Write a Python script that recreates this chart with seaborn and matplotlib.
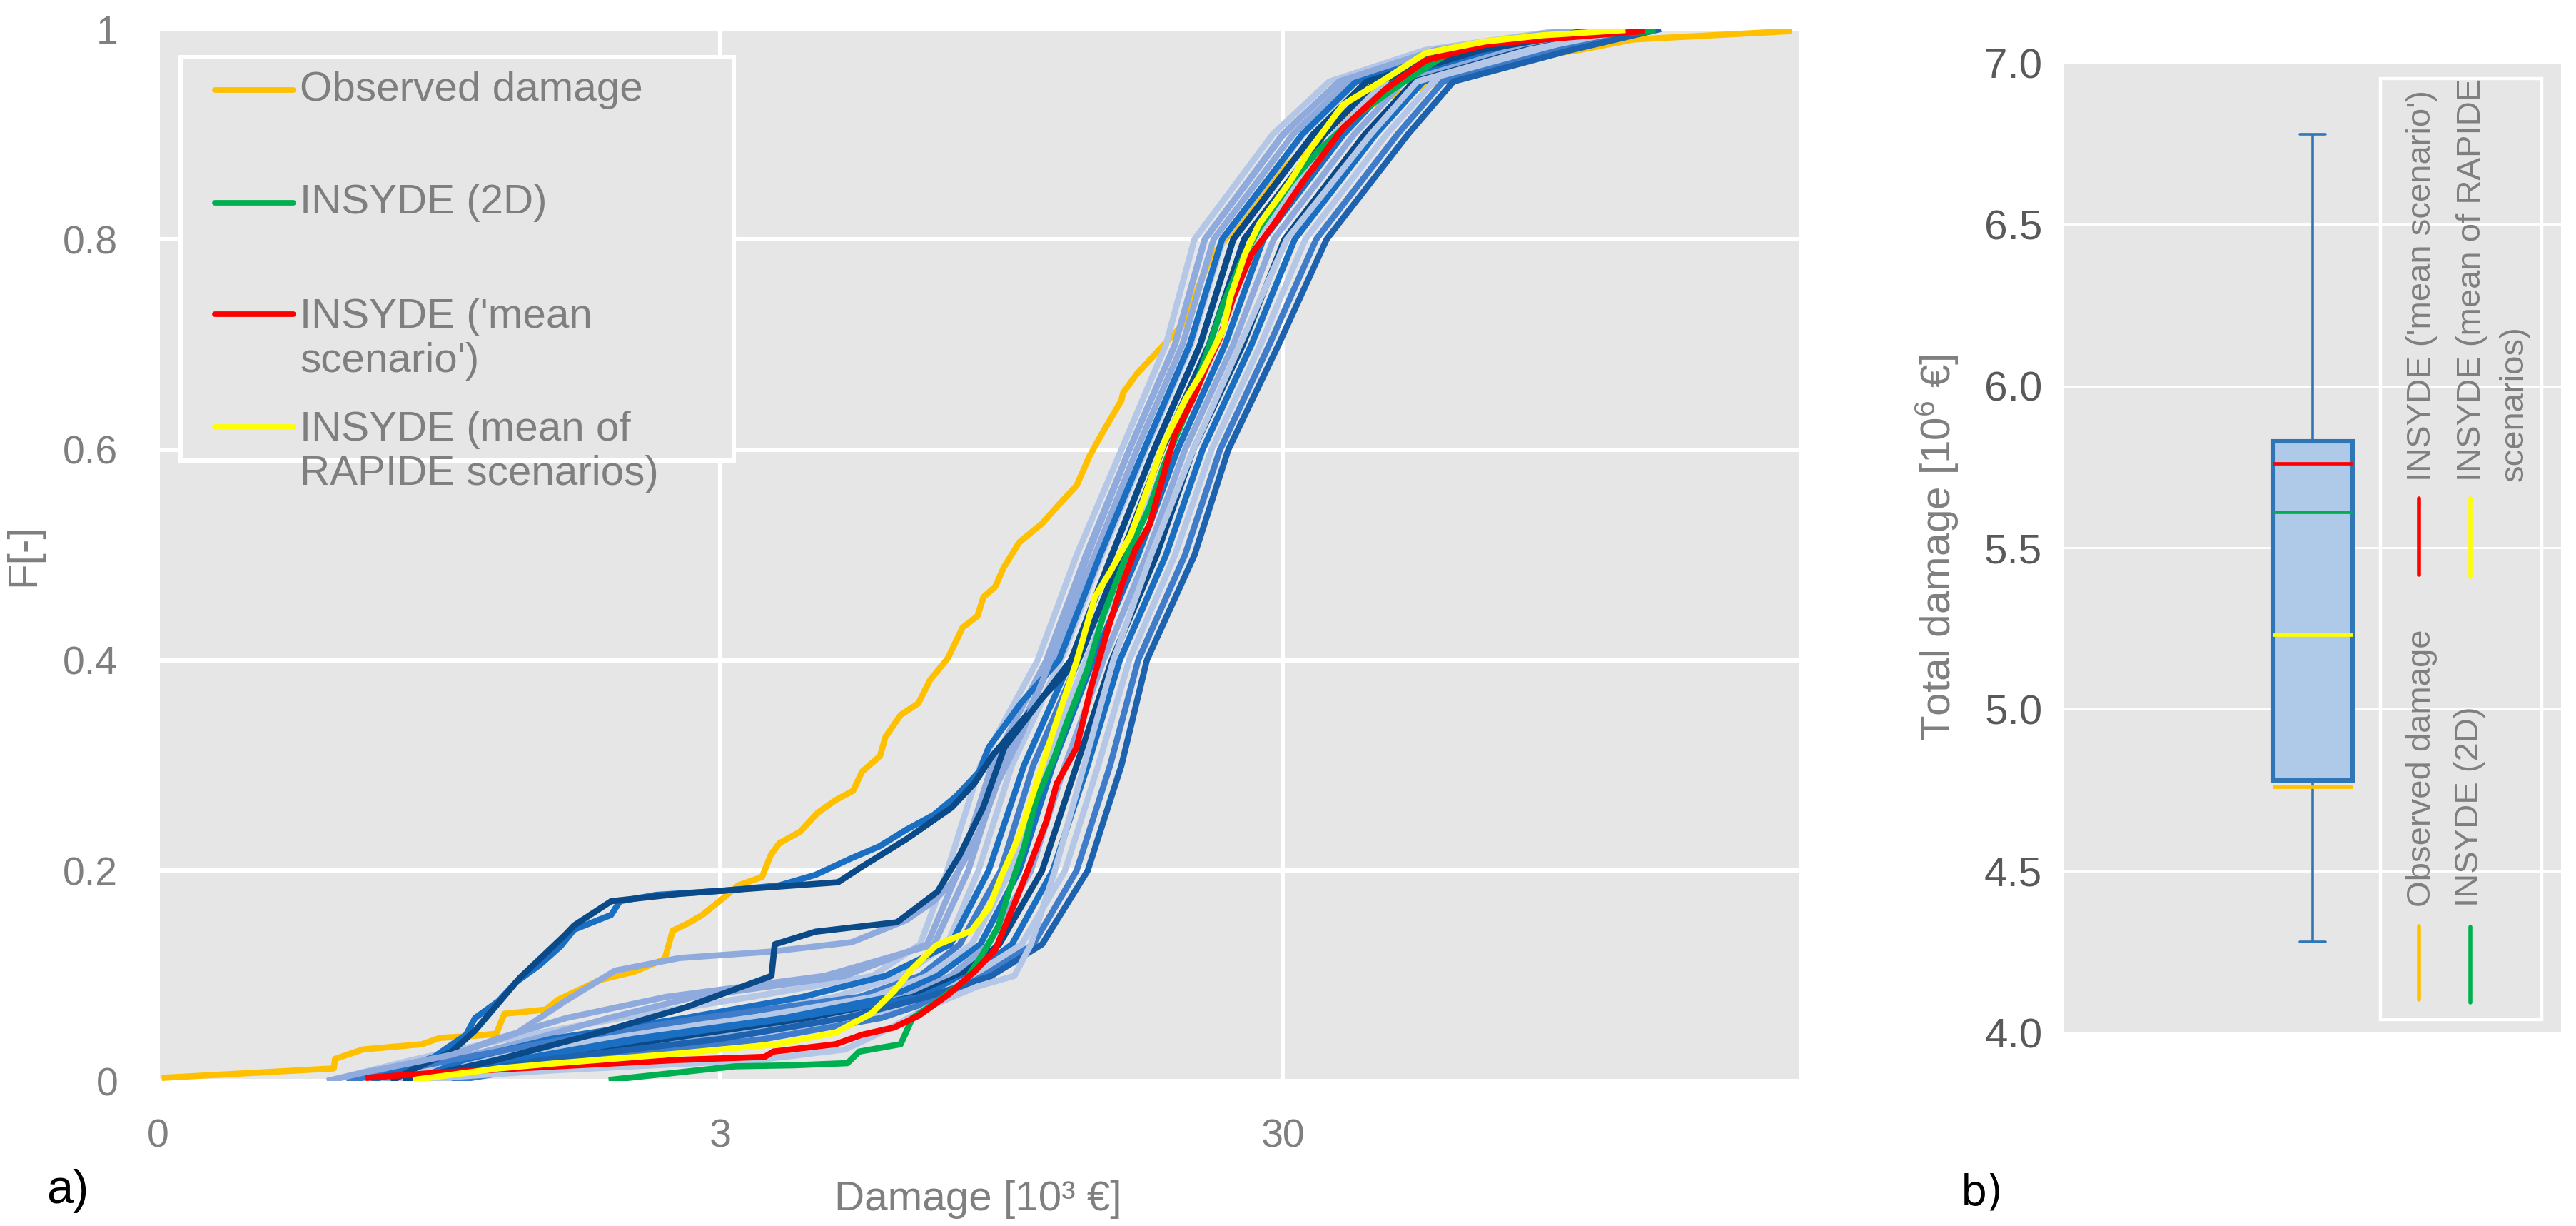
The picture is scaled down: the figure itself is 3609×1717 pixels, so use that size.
import numpy as np
import pandas as pd
import matplotlib.pyplot as plt
from matplotlib.patches import Rectangle
from matplotlib.ticker import NullLocator
import seaborn as sns

# ---- panel a) : cumulative distributions of building damage (10^3 EUR) ----
obs_x = [0.305, 0.617, 0.62, 0.695, 0.885, 0.952, 1.10, 1.20, 1.24, 1.47, 1.54, 1.83, 2.11, 2.39,
         2.47, 2.63, 2.79, 3.07, 3.23, 3.56, 3.69, 3.82, 4.16, 4.47, 4.81, 5.17, 5.36, 5.77, 5.90,
         6.28, 6.75, 7.08, 7.62, 8.09, 8.60, 8.81, 9.25, 9.57, 10.2, 11.2, 12.0, 12.9, 13.6, 14.3,
         15.5, 15.6, 16.5, 20.0, 22.2, 29.0, 37.0, 46.0, 56.5, 68.5, 101, 126, 241]
obs_F = [0.003, 0.012, 0.021, 0.030, 0.035, 0.041, 0.043, 0.045, 0.064, 0.068, 0.077, 0.096, 0.104,
         0.116, 0.143, 0.150, 0.158, 0.176, 0.186, 0.194, 0.215, 0.226, 0.237, 0.255, 0.267, 0.276,
         0.294, 0.309, 0.327, 0.348, 0.359, 0.381, 0.402, 0.431, 0.442, 0.460, 0.470, 0.488, 0.512,
         0.530, 0.548, 0.566, 0.594, 0.615, 0.647, 0.654, 0.672, 0.720, 0.780, 0.860, 0.910, 0.935,
         0.949, 0.967, 0.980, 0.990, 0.998]

ins2d_x = [1.90, 2.51, 3.19, 4.06, 5.05, 5.30, 6.28, 6.59, 7.26, 8.19, 8.81, 9.36, 9.82, 10.4, 10.9,
           11.8, 12.4, 13.5, 14.4, 15.7, 17.4, 18.5, 20.2, 21.5, 23.5, 25.3, 27.2, 31.1, 34.8, 41.3,
           49, 60.8, 77, 138]
ins2d_F = [0.001, 0.008, 0.014, 0.015, 0.017, 0.028, 0.035, 0.060, 0.075, 0.096, 0.122, 0.147, 0.183,
           0.222, 0.265, 0.309, 0.341, 0.392, 0.443, 0.495, 0.546, 0.587, 0.635, 0.677, 0.738, 0.779,
           0.810, 0.855, 0.885, 0.921, 0.949, 0.981, 0.990, 0.998]

mean_scen_x = [0.703, 0.95, 1.54, 1.97, 2.51, 3.60, 3.73, 4.81, 5.36, 6.12, 6.75, 7.62, 8.49, 9.25,
               9.94, 10.7, 11.4, 11.9, 12.9, 13.7, 14.6, 15.5, 16.4, 17.4, 18.5, 19.3, 20.8, 22.1,
               23.1, 24.5, 26.4, 28.9, 32.6, 38.4, 45.5, 53.8, 68.5, 87, 132]
mean_scen_F = [0.003, 0.008, 0.014, 0.017, 0.020, 0.023, 0.028, 0.035, 0.044, 0.051, 0.062, 0.082,
               0.104, 0.125, 0.165, 0.208, 0.247, 0.283, 0.317, 0.375, 0.426, 0.471, 0.505, 0.529,
               0.580, 0.615, 0.649, 0.683, 0.704, 0.745, 0.786, 0.814, 0.855, 0.906, 0.942, 0.970,
               0.985, 0.990, 0.998]

mean_rap_x = [0.853, 1.21, 1.54, 2.51, 3.78, 4.81, 5.56, 6.12, 6.59, 7.26, 8.39, 9.02, 9.47, 10.2,
              10.9, 11.8, 12.9, 13.9, 14.8, 16.1, 16.9, 17.7, 18.5, 20.2, 21.5, 23.5, 24.2, 25.7,
              27.2, 30.9, 33.5, 38.4, 45.5, 53.8, 68.5, 87, 122]
mean_rap_F = [0.001, 0.012, 0.017, 0.026, 0.035, 0.046, 0.064, 0.086, 0.107, 0.129, 0.143, 0.165,
              0.194, 0.233, 0.280, 0.337, 0.399, 0.46, 0.484, 0.519, 0.55, 0.58, 0.608, 0.649, 0.673,
              0.714, 0.745, 0.786, 0.814, 0.855, 0.885, 0.928, 0.952, 0.977, 0.988, 0.994, 0.999]

# single RAPIDE scenarios read on a common F grid
scen_F = [0.0, 0.02, 0.04, 0.06, 0.08, 0.10, 0.13, 0.20, 0.30, 0.40, 0.50, 0.60, 0.70, 0.80, 0.90,
          0.95, 0.98, 1.0]
scen_x = {
    "s01": [0.60, 0.85, 1.25, 2.0, 3.4, 5.6, 6.8, 7.6, 8.7, 11.0, 12.9, 15.5, 18.6, 20.9, 28.8, 36.3, 53.7, 97.7],
    "s02": [0.75, 1.0, 1.4, 1.9, 2.7, 5.0, 7.0, 7.96, 9.12, 11.4, 13.4, 16.0, 19.3, 21.8, 30.1, 37.8, 56.3, 101],
    "s03": [0.80, 0.95, 1.2, 1.6, 2.4, 4.6, 7.2, 8.28, 9.5, 11.7, 13.9, 16.5, 19.9, 22.6, 31.3, 39.2, 58.7, 103],
    "s04": [0.70, 1.1, 1.7, 3.0, 4.8, 6.3, 7.6, 8.63, 9.9, 12.1, 14.3, 17.1, 20.6, 23.5, 32.6, 40.6, 61.2, 106],
    "s05": [0.85, 1.05, 1.5, 2.6, 4.2, 5.9, 7.7, 9.0, 10.4, 12.6, 14.9, 17.7, 21.4, 24.5, 34.0, 42.3, 64.3, 109],
    "s06": [0.65, 1.0, 1.6, 2.8, 5.3, 6.8, 8.0, 9.46, 10.8, 13.0, 15.5, 18.3, 22.2, 25.6, 35.6, 44.0, 67.5, 112],
    "s07": [0.90, 1.2, 1.9, 3.4, 5.6, 7.0, 8.4, 9.84, 11.3, 13.4, 16.0, 18.9, 22.9, 26.7, 37.0, 45.6, 70.3, 115],
    "s08": [0.95, 1.3, 2.1, 3.9, 6.0, 7.3, 8.7, 10.2, 11.7, 13.8, 16.6, 19.5, 23.7, 27.7, 38.5, 47.2, 73.3, 118],
    "s09": [0.85, 1.5, 2.8, 4.6, 6.4, 7.7, 9.0, 10.7, 12.3, 14.4, 17.2, 20.1, 24.5, 28.9, 40.2, 49.2, 76.9, 122],
    "s10": [1.0, 1.4, 2.4, 4.3, 6.6, 8.0, 9.4, 11.2, 12.9, 14.9, 17.9, 20.8, 25.5, 30.2, 42.0, 51.3, 80.7, 126],
    "s11": [0.90, 1.3, 2.2, 4.0, 6.8, 8.3, 9.9, 11.7, 13.5, 15.4, 18.6, 21.6, 26.4, 31.5, 43.9, 53.3, 84.7, 129],
    "s12": [0.95, 1.6, 3.2, 5.4, 7.2, 8.4, 10.3, 12.3, 14.1, 16.0, 19.3, 22.4, 27.4, 32.9, 45.9, 55.6, 88.7, 133],
    "s13": [1.0, 1.7, 3.6, 5.8, 7.5, 8.8, 10.8, 12.9, 14.8, 16.6, 20.1, 23.2, 28.4, 34.4, 48.0, 57.8, 93.1, 137],
    "s14": [0.85, 1.45, 3.0, 5.0, 7.0, 9.1, 11.2, 13.5, 15.5, 17.2, 20.9, 24.0, 29.5, 35.9, 50.1, 60.3, 97.7, 141],
}

# scenarios with their own shape (early risers / plateaus)
s15_x = [0.78, 1.5, 3.5, 5.0, 6.0, 7.0, 8.6, 10.0, 10.7, 11.8, 13.3, 15.0, 17.5, 20.8, 25.2, 30.5, 43, 52, 82, 126]
s15_F = [0, 0.01, 0.02, 0.03, 0.05, 0.07, 0.09, 0.10, 0.13, 0.20, 0.30, 0.40, 0.50, 0.60, 0.70, 0.80, 0.90, 0.95, 0.98, 1.0]
s16_x = [0.72, 0.82, 0.93, 1.06, 1.10, 1.21, 1.30, 1.43, 1.56, 1.65, 1.92, 1.99, 2.31, 3.05, 3.82, 4.43,
         5.14, 5.75, 6.43, 7.19, 7.89, 8.66, 9.0, 10.3, 12.0, 14.2, 17.0, 20.5, 23.4, 32.5, 40.5, 61, 106]
s16_F = [0, 0.012, 0.023, 0.044, 0.060, 0.076, 0.094, 0.110, 0.128, 0.144, 0.158, 0.171, 0.177, 0.181,
         0.186, 0.196, 0.212, 0.223, 0.239, 0.253, 0.271, 0.294, 0.317, 0.36, 0.40, 0.50, 0.60, 0.70,
         0.80, 0.90, 0.95, 0.98, 1.0]
s17_x = [0.78, 0.86, 1.0, 1.10, 1.32, 1.59, 1.65, 1.92, 2.54, 3.4, 4.86, 5.33, 6.43, 7.74, 8.49, 9.16,
         11.0, 13.0, 15.5, 18.3, 22.2, 25.6, 35.6, 44.0, 67.5, 112]
s17_F = [0, 0.012, 0.028, 0.048, 0.098, 0.139, 0.148, 0.171, 0.178, 0.183, 0.189, 0.203, 0.230, 0.260,
         0.283, 0.310, 0.36, 0.40, 0.50, 0.60, 0.70, 0.80, 0.90, 0.95, 0.98, 1.0]
s18_x = [0.60, 0.69, 1.0, 1.3, 1.59, 1.95, 2.54, 3.68, 5.14, 6.43, 7.19, 7.74, 8.34, 8.83, 9.33, 10.3,
         11.6, 13.5, 16.0, 19.3, 21.8, 30.0, 37.8, 56, 100]
s18_F = [0, 0.0075, 0.025, 0.045, 0.076, 0.105, 0.117, 0.123, 0.132, 0.153, 0.171, 0.189, 0.219, 0.248,
         0.283, 0.33, 0.40, 0.50, 0.60, 0.70, 0.80, 0.90, 0.95, 0.98, 1.0]
s19_x = [0.82, 1.2, 1.8, 2.6, 3.7, 3.75, 4.43, 6.19, 7.3, 8.0, 8.8, 9.6, 12.6, 14.9, 17.7, 21.4, 24.5,
         34.0, 42.3, 64.3, 109]
s19_F = [0, 0.02, 0.045, 0.07, 0.10, 0.13, 0.142, 0.151, 0.18, 0.215, 0.26, 0.317, 0.40, 0.50, 0.60,
         0.70, 0.80, 0.90, 0.95, 0.98, 1.0]

# ---- panel b) : total damage (10^6 EUR) ----
scen_total_summary = [4.28, 4.78, 5.30, 5.83, 6.78]   # whisker low, Q1, (median, hidden), Q3, whisker high
model_labels = ["Observed damage", "INSYDE (2D)", "INSYDE ('mean scenario')",
                "INSYDE (mean of RAPIDE scenarios)"]
model_totals = [4.76, 5.61, 5.76, 5.23]

# colours
c_obs, c_2d, c_mean, c_rap = "#FFC000", "#00B050", "#FF0000", "#FFFF00"
pale, peri, mid, med, dark = "#B4C7E7", "#8FAADC", "#3F7DCB", "#1A6FC2", "#0B4A88"
scen_colors = {"s01": pale, "s02": peri, "s03": peri, "s04": pale, "s05": med, "s06": mid,
               "s07": pale, "s08": med, "s09": peri, "s10": dark, "s11": med, "s12": pale,
               "s13": mid, "s14": "#1C62AE", "s15": pale, "s16": med, "s17": dark, "s18": peri,
               "s19": dark}

# build long table
parts = [pd.DataFrame({"curve": "obs", "damage": obs_x, "F": obs_F})]
for k, xs in scen_x.items():
    parts.append(pd.DataFrame({"curve": k, "damage": xs, "F": scen_F}))
for k, xs, fs in [("s15", s15_x, s15_F), ("s16", s16_x, s16_F), ("s17", s17_x, s17_F),
                  ("s18", s18_x, s18_F), ("s19", s19_x, s19_F)]:
    parts.append(pd.DataFrame({"curve": k, "damage": xs, "F": fs}))
parts.append(pd.DataFrame({"curve": "ins2d", "damage": ins2d_x, "F": ins2d_F}))
parts.append(pd.DataFrame({"curve": "mean_scen", "damage": mean_scen_x, "F": mean_scen_F}))
parts.append(pd.DataFrame({"curve": "mean_rap", "damage": mean_rap_x, "F": mean_rap_F}))
df = pd.concat(parts, ignore_index=True)

palette = {"obs": c_obs, "ins2d": c_2d, "mean_scen": c_mean, "mean_rap": c_rap, **scen_colors}
order = ["obs"] + list(scen_colors.keys()) + ["ins2d", "mean_scen", "mean_rap"]

# style
sns.set_theme(style="darkgrid", rc={"axes.facecolor": "#E6E6E6", "grid.color": "white",
                                     "figure.facecolor": "white"})
plt.rcParams["font.family"] = ["Liberation Sans", "DejaVu Sans"]
plt.rcParams["mathtext.fontset"] = "custom"
plt.rcParams["mathtext.rm"] = "Liberation Sans"
plt.rcParams["mathtext.it"] = "Liberation Sans:italic"
grey = "#7F7F7F"

fig = plt.figure(figsize=(18.045, 8.585), dpi=200)
ax1 = fig.add_axes([0.0612, 0.1182, 0.6371, 0.8582])
ax2 = fig.add_axes([0.8013, 0.1578, 0.1929, 0.7909])

# ---- a) ----
sns.lineplot(data=df, x="damage", y="F", hue="curve", hue_order=order, palette=palette,
             sort=False, estimator=None, legend=False, linewidth=3.1, ax=ax1,
             solid_joinstyle="round", solid_capstyle="butt")
for ln in ax1.lines:
    ln.set_linewidth(3.1)
ax1.set_xscale("log")
ax1.set_xlim(0.3, 248)
ax1.set_ylim(0, 1)
ax1.set_xticks([0.3, 3, 30])
ax1.set_xticklabels(["0", "3", "30"])
ax1.xaxis.set_minor_locator(NullLocator())
ax1.set_yticks([0, 0.2, 0.4, 0.6, 0.8, 1.0])
ax1.set_yticklabels(["0", "0.2", "0.4", "0.6", "0.8", "1"])
ax1.grid(True, color="white", lw=2.2)
ax1.tick_params(axis="x", colors=grey, labelsize=20, pad=19, length=0)
ax1.tick_params(axis="y", colors=grey, labelsize=20, pad=20, length=0)
for s in ax1.spines.values():
    s.set_visible(False)
ax1.set_xlabel("Damage [10³ €]", color=grey, fontsize=21)
ax1.set_ylabel("F[-]", color=grey, fontsize=21)
ax1.xaxis.set_label_coords(0.5, -0.094)
ax1.yaxis.set_label_coords(-0.07, 0.5)

# legend (drawn by hand to keep the handle on the first text line)
ax1.add_patch(Rectangle((0.014, 0.590), 0.337, 0.383, transform=ax1.transAxes,
                        facecolor="#E6E6E6", edgecolor="white", lw=2.2, zorder=5))
leg_a_labels = ["Observed damage", "INSYDE (2D)", "INSYDE ('mean\nscenario')",
                "INSYDE (mean of\nRAPIDE scenarios)"]
leg_a_colors = [c_obs, c_2d, c_mean, c_rap]
leg_a_y = [0.942, 0.835, 0.729, 0.622]
for lab, col, y in zip(leg_a_labels, leg_a_colors, leg_a_y):
    ax1.plot([0.035, 0.0826], [y, y], color=col, lw=2.8, transform=ax1.transAxes,
             zorder=6, solid_capstyle="round")
    ty = y if "\n" not in lab else y - 0.024
    ax1.text(0.0866, ty, lab, transform=ax1.transAxes, color=grey, fontsize=21,
             va="center", ha="left", linespacing=1.2, zorder=6)

# ---- b) ----
sns.boxplot(y=scen_total_summary, ax=ax2, width=0.162, saturation=1, whis=1.5,
            color="#AFC9E9", linecolor="#2F76B7", linewidth=1.3,
            boxprops={"facecolor": "#AFC9E9", "edgecolor": "#2F76B7", "linewidth": 2.2},
            medianprops={"visible": False})
# narrower whisker caps, as in the original
for ln in ax2.lines:
    xd, yd = np.asarray(ln.get_xdata(), float), np.asarray(ln.get_ydata(), float)
    if len(xd) == 2 and yd[0] == yd[1] and yd[0] in (min(scen_total_summary), max(scen_total_summary)):
        ln.set_xdata([-0.026, 0.026])
ax2.hlines(model_totals, -0.081, 0.081, colors=[c_obs, c_2d, c_mean, c_rap], lw=1.7, zorder=5)
ax2.set_xlim(-0.5, 0.5)
ax2.set_ylim(4.0, 7.0)
ax2.set_yticks([4.0, 4.5, 5.0, 5.5, 6.0, 6.5, 7.0])
ax2.set_yticklabels(["4.0", "4.5", "5.0", "5.5", "6.0", "6.5", "7.0"])
ax2.set_xticks([])
ax2.grid(True, axis="y", color="white", lw=1.0)
ax2.grid(False, axis="x")
ax2.tick_params(axis="y", colors="#595959", labelsize=21, pad=11, length=0)
for s in ax2.spines.values():
    s.set_visible(False)
ax2.set_xlabel("")
ax2.set_ylabel(r"Total damage [10$^6$ €]", color=grey, fontsize=21)
ax2.yaxis.set_label_coords(-0.208, 0.5)

# rotated legend of panel b)
ax2.add_patch(Rectangle((0.636, 0.013), 0.325, 0.971, transform=ax2.transAxes,
                        facecolor="none", edgecolor="white", lw=1.6, zorder=5))
leg_b = [("Observed damage", c_obs, 0.714, 0.720, 0.034, 0.110, 0.1296),
         ("INSYDE ('mean scenario')", c_mean, 0.714, 0.720, 0.472, 0.551, 0.5685),
         ("INSYDE (2D)", c_2d, 0.817, 0.816, 0.031, 0.109, 0.1296),
         ("INSYDE (mean of RAPIDE\nscenarios)", c_rap, 0.817, 0.863, 0.470, 0.551, 0.5685)]
for lab, col, hx, tx, y0, y1, ty in leg_b:
    ax2.plot([hx, hx], [y0, y1], color=col, lw=2.0, transform=ax2.transAxes, zorder=6)
    ax2.text(tx, ty, lab, transform=ax2.transAxes, rotation=90, color=grey, fontsize=17,
             ha="center", va="bottom", multialignment="left", linespacing=1.45, zorder=6)

fig.text(0.018, 0.0285, "a)", fontsize=24, color="black", va="center")
fig.text(0.761, 0.027, "b)", fontsize=21, color="black", va="center", family="DejaVu Sans")

fig.savefig("out.png", dpi=200)
